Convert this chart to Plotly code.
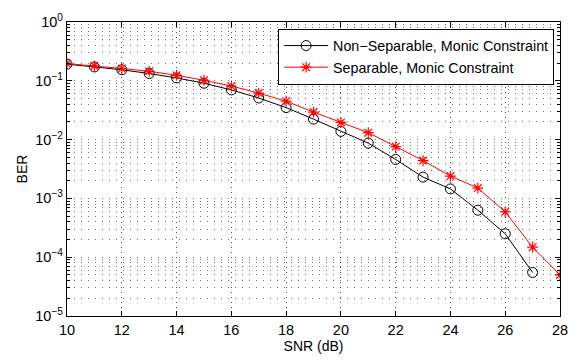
import plotly.graph_objects as go

snr_black = [10, 11, 12, 13, 14, 15, 16, 17, 18, 19, 20, 21, 22, 23, 24, 25, 26, 27]
ber_black = [0.192, 0.172, 0.154, 0.133, 0.112, 0.091, 0.070, 0.051, 0.035, 0.0223, 0.0138,
             0.0087, 0.0046, 0.0023, 0.00145, 0.00063, 0.00025, 5.5e-5]
snr_red = [10, 11, 12, 13, 14, 15, 16, 17, 18, 19, 20, 21, 22, 23, 24, 25, 26, 27, 28]
ber_red = [0.196, 0.179, 0.162, 0.145, 0.124, 0.102, 0.0815, 0.0618, 0.045, 0.0294, 0.0196,
           0.0131, 0.0076, 0.0044, 0.0024, 0.00150, 0.00059, 0.000148, 5.0e-5]

x_ticks = [10, 12, 14, 16, 18, 20, 22, 24, 26, 28]
y_tickvals = [1, 0.1, 0.01, 0.001, 1e-4, 1e-5]
y_ticktext = ["10<sup>0</sup>", "10<sup>−1</sup>", "10<sup>−2</sup>", "10<sup>−3</sup>",
              "10<sup>−4</sup>", "10<sup>−5</sup>"]
decades = [1e-5, 1e-4, 1e-3, 1e-2, 1e-1]
mantissas = [2, 3, 4, 5, 6, 7, 8, 9]
y_minor_vals = [m * d for d in decades for m in mantissas]

fig = go.Figure()
fig.add_trace(go.Scatter(
    x=snr_black, y=ber_black, mode="lines+markers",
    name="Non−Separable, Monic Constraint",
    line=dict(color="black", width=1),
    marker=dict(symbol="circle-open", size=10, color="black", line=dict(width=1)),
))
fig.add_trace(go.Scatter(
    x=snr_red, y=ber_red, mode="lines+markers",
    name="Separable, Monic Constraint",
    line=dict(color="red", width=1),
    marker=dict(symbol="asterisk-open", size=9, color="red", line=dict(width=1.2, color="red")),
))

x_grid_col = "rgba(0,0,0,0.7)"
y_grid_col = "rgba(0,0,0,0.55)"
fig.update_layout(
    width=584, height=361,
    margin=dict(l=67, r=24, t=16, b=41),
    paper_bgcolor="white", plot_bgcolor="white",
    font=dict(family="Liberation Sans, Arial, sans-serif", size=14, color="black"),
    showlegend=True,
    legend=dict(
        x=0.988, y=0.977, xanchor="right", yanchor="top",
        bgcolor="white", bordercolor="black", borderwidth=1,
        font=dict(size=14.3), itemwidth=44,
        tracegroupgap=0,
    ),
    xaxis=dict(
        range=[10, 28], tickvals=x_ticks,
        ticks="inside", ticklen=5, tickcolor="black",
        showline=True, linecolor="black", linewidth=1.3, mirror="allticks",
        showgrid=True, gridcolor=x_grid_col, griddash="1px,4px", gridwidth=1,
        zeroline=False,
        title=dict(text="SNR (dB)", standoff=2, font=dict(size=14)),
        tickfont=dict(size=14.5),
    ),
    yaxis=dict(
        type="log", range=[-5, 0],
        tickvals=y_tickvals, ticktext=y_ticktext,
        ticks="inside", ticklen=5, tickcolor="black",
        showline=True, linecolor="black", linewidth=1.3, mirror="allticks",
        showgrid=True, gridcolor=y_grid_col, griddash="1px,6px", gridwidth=1,
        zeroline=False,
        minor=dict(tickvals=y_minor_vals, ticks="inside", ticklen=3, tickcolor="black",
                   showgrid=True, gridcolor=y_grid_col, griddash="1px,6px", gridwidth=1),
        title=dict(text="BER", standoff=4, font=dict(size=14)),
        tickfont=dict(size=14.5),
    ),
)

fig.write_html("out.html")
